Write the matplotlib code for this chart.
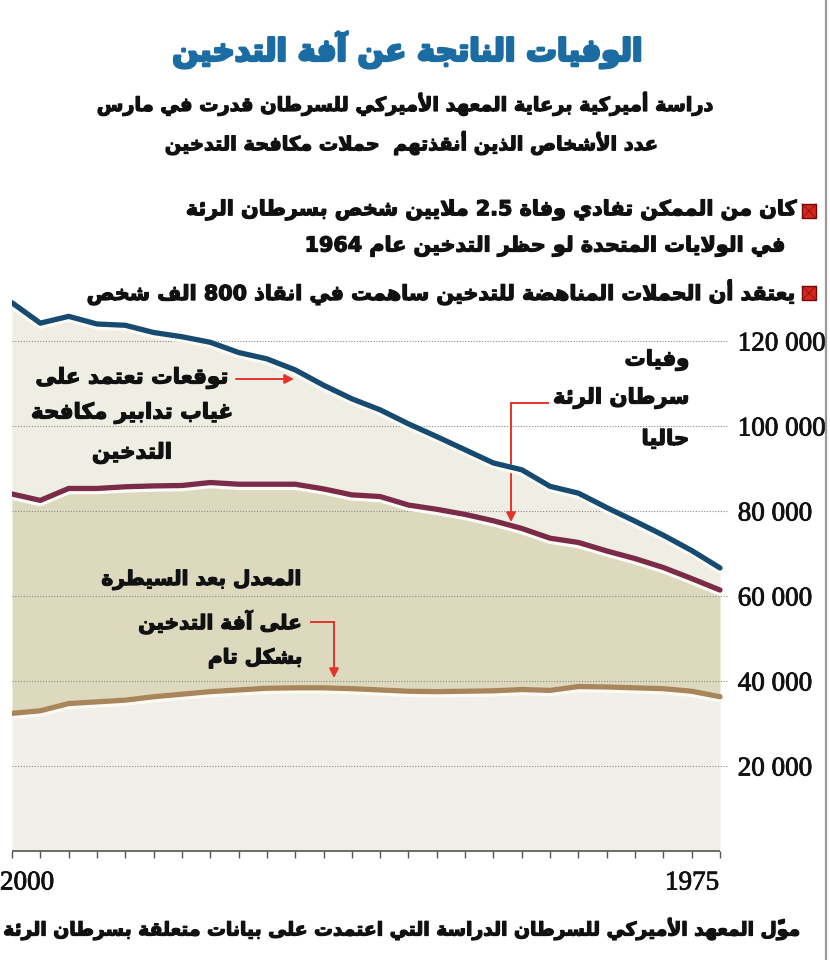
import matplotlib
matplotlib.use("Agg")
import matplotlib.pyplot as plt
import matplotlib.patheffects as pe
from matplotlib.patches import Rectangle
from matplotlib.lines import Line2D

# ---------------- data ----------------
years = list(range(2000, 1974, -1))
projected = [129000, 124200, 125800, 124000, 123700, 122000, 121000, 119700, 117300, 115800,
             113200, 109600, 106400, 103800, 100500, 97500, 94400, 91300, 89700, 85800,
             84200, 80800, 77600, 74300, 70700, 66600]
actual = [84000, 82500, 85300, 85300, 85700, 85900, 86000, 86700, 86300, 86300,
          86300, 85200, 83800, 83400, 81400, 80400, 79200, 77700, 75900, 73600,
          72600, 70600, 68800, 66700, 64100, 61400]
complete = [32400, 33000, 34700, 35100, 35500, 36300, 36900, 37500, 37900, 38300,
            38400, 38400, 38200, 37900, 37600, 37500, 37600, 37700, 38000, 37800,
            38700, 38600, 38400, 38200, 37600, 36300]
y_ticks = [20000, 40000, 60000, 80000, 100000, 120000]
y_tick_labels = ["20 000", "40 000", "60 000", "80 000", "100 000", "120 000"]
x_labels = ["2000", "1975"]

title = "الوفيات الناتجة عن آفة التدخين"
subtitle = ["دراسة أميركية برعاية المعهد الأميركي للسرطان قدرت في مارس",
            "عدد الأشخاص الذين أنقذتهم  حملات مكافحة التدخين"]
bullet1 = ["كان من الممكن تفادي وفاة 2.5 ملايين شخص بسرطان الرئة",
           "في الولايات المتحدة لو حظر التدخين عام 1964"]
bullet2 = "يعتقد أن الحملات المناهضة للتدخين ساهمت في انقاذ 800 الف شخص"
label_projected = ["توقعات تعتمد على", "غياب تدابير مكافحة", "التدخين"]
label_actual = ["وفيات", "سرطان الرئة", "حاليا"]
label_complete = ["المعدل بعد السيطرة", "على آفة التدخين", "بشكل تام"]
footer = "موّل المعهد الأميركي للسرطان الدراسة التي اعتمدت على بيانات متعلقة بسرطان الرئة"

# ---------------- minimal Arabic shaping + bidi ----------------
DUAL = {'ئ': 0xFE89, 'ب': 0xFE8F, 'ت': 0xFE95, 'ث': 0xFE99, 'ج': 0xFE9D, 'ح': 0xFEA1,
        'خ': 0xFEA5, 'س': 0xFEB1, 'ش': 0xFEB5, 'ص': 0xFEB9, 'ض': 0xFEBD, 'ط': 0xFEC1,
        'ظ': 0xFEC5, 'ع': 0xFEC9, 'غ': 0xFECD, 'ف': 0xFED1, 'ق': 0xFED5, 'ك': 0xFED9,
        'ل': 0xFEDD, 'م': 0xFEE1, 'ن': 0xFEE5, 'ه': 0xFEE9, 'ي': 0xFEF1}
RIGHT = {'آ': 0xFE81, 'أ': 0xFE83, 'ؤ': 0xFE85, 'إ': 0xFE87, 'ا': 0xFE8D, 'ة': 0xFE93,
         'د': 0xFEA9, 'ذ': 0xFEAB, 'ر': 0xFEAD, 'ز': 0xFEAF, 'و': 0xFEED, 'ى': 0xFEEF}
LAMALEF = {'آ': 0xFEF5, 'أ': 0xFEF7, 'إ': 0xFEF9, 'ا': 0xFEFB}
MARKS = set(chr(c) for c in range(0x064B, 0x0653))


def _kind(tok):
    if tok.startswith('LA') and len(tok) == 3:
        return 'R'
    if tok in DUAL:
        return 'D'
    if tok in RIGHT:
        return 'R'
    return None


def shape(s):
    toks = []
    i = 0
    while i < len(s):
        c = s[i]
        if c in MARKS and toks:
            toks[-1][1].append(c)
            i += 1
            continue
        if c == 'ل' and i + 1 < len(s) and s[i + 1] in LAMALEF:
            toks.append(['LA' + s[i + 1], []])
            i += 2
            continue
        toks.append([c, []])
        i += 1
    clusters = []
    for j, (t, marks) in enumerate(toks):
        k = _kind(t)
        pj = j > 0 and _kind(toks[j - 1][0]) == 'D' and k is not None
        nj = j + 1 < len(toks) and k == 'D' and _kind(toks[j + 1][0]) is not None
        if t.startswith('LA') and len(t) == 3:
            g = chr(LAMALEF[t[2]] + (1 if pj else 0))
        elif k == 'D':
            b = DUAL[t]
            g = chr(b + 3) if (pj and nj) else chr(b + 1) if pj else chr(b + 2) if nj else chr(b)
        elif k == 'R':
            g = chr(RIGHT[t] + (1 if pj else 0))
        elif t == 'ء':
            g = '\uFE80'
        else:
            g = t
        clusters.append((''.join(marks) + g, t))
    # bidi: digit runs stay LTR, everything else RTL
    runs = []
    for g, t in clusters:
        ltr = t.isdigit() or t == '.'
        if runs and runs[-1][0] == ltr:
            runs[-1][1].append(g)
        else:
            runs.append([ltr, [g]])
    out = []
    for ltr, gs in reversed(runs):
        out.extend(gs if ltr else reversed(gs))
    return ''.join(out)


# ---------------- figure ----------------
W, H = 830, 960
fig = plt.figure(figsize=(W / 100, H / 100), dpi=100)
fig.patch.set_facecolor('white')


def fx(x):
    return x / W


def fy(y):
    return 1 - y / H


AR = dict(family=['DejaVu Sans'], weight='bold')
fig.canvas.draw()
renderer = fig.canvas.get_renderer()


def measure(s, base=20):
    t = fig.text(0, 0, shape(s), fontsize=base, **AR)
    w = t.get_window_extent(renderer).width
    t.remove()
    return w / base


def put(x, y, s, size, ha='right', color='#111111', thick=0.9):
    return fig.text(fx(x), fy(y), shape(s), ha=ha, va='center', fontsize=size, color=color,
                    path_effects=[pe.withStroke(linewidth=thick, foreground=color)], **AR)


def fit_size(s, width):
    return width / measure(s)


# axes: x=12..728 px, y=300..851 px
left_px, right_px, top_px, bot_px = 12, 728, 300, 851
ax = fig.add_axes([fx(left_px), fy(bot_px), (right_px - left_px) / W, (bot_px - top_px) / H])
px_per_year = (720 - left_px) / 25.0
ax.set_xlim(years[0], years[-1] - (right_px - 720) / px_per_year)
px_per_unit = 85 / 20000
ax.set_ylim(0, (bot_px - top_px) / px_per_unit)
ax.patch.set_alpha(0)
for sp in ax.spines.values():
    sp.set_visible(False)

light = '#efeee4'
khaki = '#dcd9bf'
ax.fill_between(years, actual, projected, color=light, lw=0, zorder=1)
ax.fill_between(years, complete, actual, color=khaki, lw=0, zorder=1)
ax.fill_between(years, 0, complete, color='#f0efe8', lw=0, zorder=1)

halo = [pe.Stroke(linewidth=6.0, foreground='#fbfaf4', offset=(0, -1.2)), pe.Normal()]
for series, col in ((projected, '#174a70'), (actual, '#7a2b48'), (complete, '#a9855b')):
    ax.plot(years, series, color=col, lw=3.8, zorder=4, solid_capstyle='round',
            solid_joinstyle='round', path_effects=halo)

ax.set_yticks(y_ticks)
ax.set_yticklabels(y_tick_labels)
ax.yaxis.tick_right()
ax.tick_params(axis='y', length=0, pad=7, labelsize=19.5, labelcolor='#111111')
for lab in ax.get_yticklabels():
    lab.set_family('Liberation Serif')
    lab.set_path_effects([pe.withStroke(linewidth=0.6, foreground='#111111')])
ax.grid(axis='y', linestyle=(0, (1, 1.5)), color='#8a8a8a', lw=0.8, zorder=3)
ax.set_axisbelow(False)

ax.set_xticks(years)
ax.tick_params(axis='x', direction='out', length=5, width=1, color='#555555',
               labelbottom=False)
ax.hlines(0, years[0], years[-1], color='#555555', lw=1.2, clip_on=False, zorder=5)

for lbl, xp, ha in ((x_labels[0], 0, 'left'), (x_labels[1], 719, 'right')):
    fig.text(fx(xp), fy(883), lbl, ha=ha, va='center', fontsize=19.5,
             family='Liberation Serif', color='#111111',
             path_effects=[pe.withStroke(linewidth=0.6, foreground='#111111')])

# ---------------- texts ----------------
put(408, 50, title, fit_size(title, 470), ha='center', color='#1b6ca3', thick=2.0)
sub_size = fit_size(subtitle[0], 616)
put(406, 104, subtitle[0], sub_size, ha='center')
put(412, 143, subtitle[1], sub_size, ha='center')

b_size = fit_size(bullet2, 708)
put(797, 210, bullet1[0], b_size)
put(786, 246, bullet1[1], b_size)
put(797, 292, bullet2, b_size)

s1 = fit_size(label_projected[1], 202)
for line, y in zip(label_projected, [378, 413, 453]):
    put(132, y, line, s1, ha='center')
s2 = fit_size(label_actual[1], 136)
for line, y in zip(label_actual, [360, 398, 439]):
    put(689, y, line, s2)
s3 = fit_size(label_complete[0], 200)
for line, y in zip(label_complete, [580, 622, 658]):
    put(303, y, line, s3)

put(805, 929, footer, fit_size(footer, 796))

# bullet markers
for yb in (204, 286):
    fig.add_artist(Rectangle((fx(802), fy(yb + 14)), 14 / W, 14 / H, transform=fig.transFigure,
                             fc='#d9261f', ec='#6e0b0b', lw=1.0))
    fig.add_artist(Line2D([fx(802), fx(816)], [fy(yb), fy(yb + 14)], transform=fig.transFigure,
                          color='#8c1010', lw=0.7))
    fig.add_artist(Line2D([fx(802), fx(816)], [fy(yb + 14), fy(yb)], transform=fig.transFigure,
                          color='#8c1010', lw=0.7))

# annotation connectors
red = '#e2342b'
arrow = dict(arrowstyle='-|>,head_length=0.55,head_width=0.28', color=red, lw=1.4,
             shrinkA=0, shrinkB=0)


def fpx(x, y):
    return (x, H - y)


ax.annotate('', xy=fpx(294, 379), xytext=fpx(236, 379), xycoords='figure pixels',
            textcoords='figure pixels', arrowprops=arrow)
fig.add_artist(Line2D([fx(548), fx(511)], [fy(403), fy(403)], transform=fig.transFigure,
                      color=red, lw=1.4))
ax.annotate('', xy=fpx(511, 522), xytext=fpx(511, 403), xycoords='figure pixels',
            textcoords='figure pixels', arrowprops=arrow)
fig.add_artist(Line2D([fx(311), fx(334)], [fy(622), fy(622)], transform=fig.transFigure,
                      color=red, lw=1.4))
ax.annotate('', xy=fpx(334, 678), xytext=fpx(334, 622), xycoords='figure pixels',
            textcoords='figure pixels', arrowprops=arrow)

# right border line
fig.add_artist(Line2D([fx(826), fx(826)], [0, 1], transform=fig.transFigure,
                      color='#9a9a9a', lw=1.6))

fig.savefig('out.png', dpi=100)
